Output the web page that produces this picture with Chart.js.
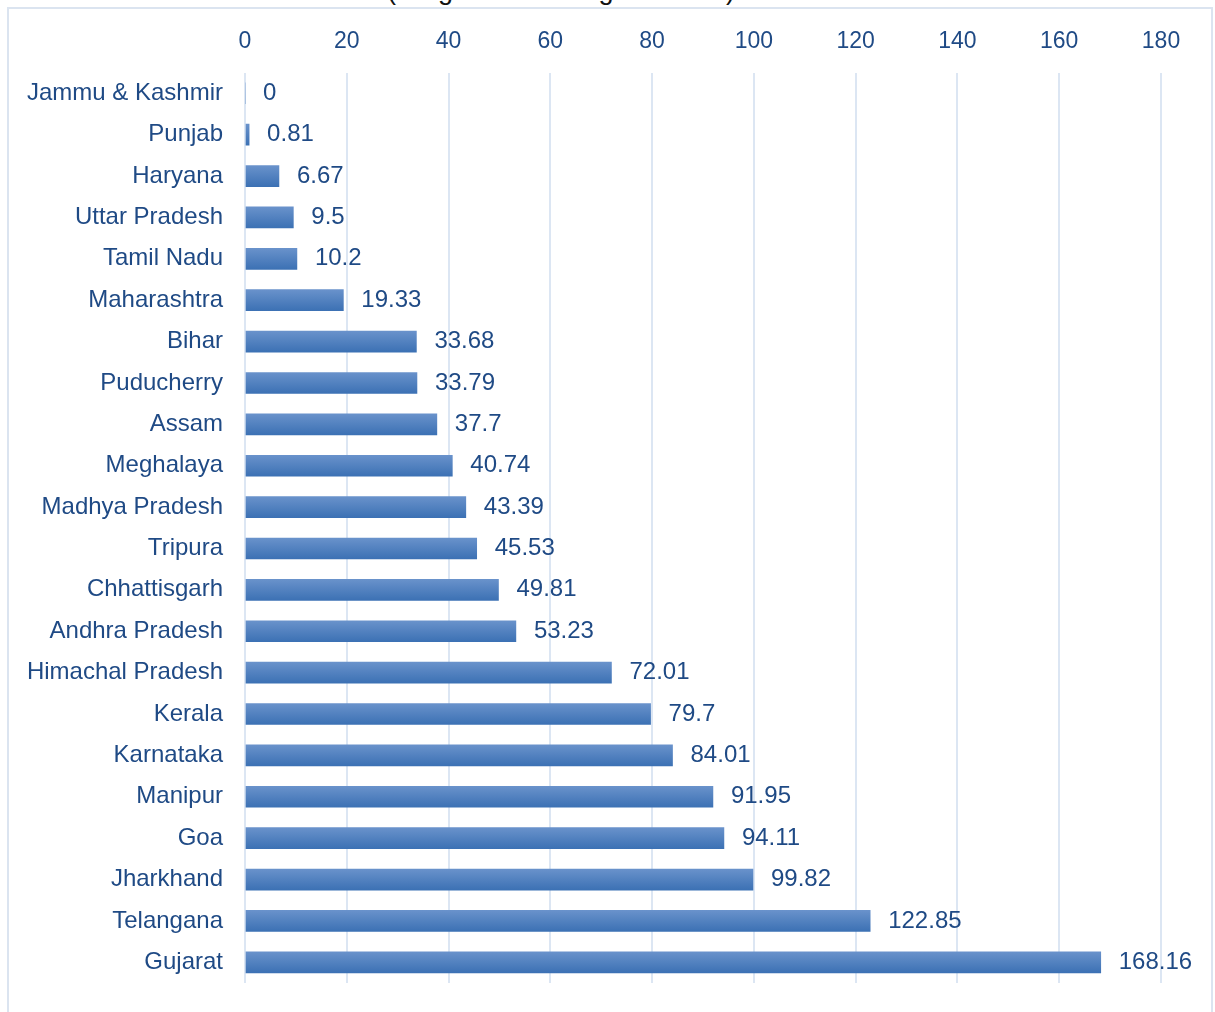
<!DOCTYPE html>
<html>
<head>
<meta charset="utf-8">
<script src="https://cdn.jsdelivr.net/npm/chart.js@4.4.0/dist/chart.umd.min.js"></script>
<style>
  html, body { margin: 0; padding: 0; background: #fff; overflow: hidden; }
  #wrap { position: relative; width: 1215px; height: 1012px; }
  #frame {
    position: absolute; left: 7px; top: 7px; width: 1206px; height: 1030px;
    border: 2px solid #dbe4f0; box-sizing: border-box;
  }
  #title {
    position: absolute; left: 0; width: 1122px; top: -23px; text-align: center;
    font: 27px "Liberation Sans", Arial, sans-serif; line-height: 27px; color: #111;
  }
  canvas { position: absolute; left: 0; top: 0; }
</style>
</head>
<body>
<div id="wrap">
  <div id="frame"></div>
  <div id="title">(Progress w.r.t target as a %)</div>
  <canvas id="chart" width="1215" height="1012"></canvas>
</div>
<script>
const states = [
  "Jammu & Kashmir", "Punjab", "Haryana", "Uttar Pradesh", "Tamil Nadu",
  "Maharashtra", "Bihar", "Puducherry", "Assam", "Meghalaya", "Madhya Pradesh",
  "Tripura", "Chhattisgarh", "Andhra Pradesh", "Himachal Pradesh", "Kerala",
  "Karnataka", "Manipur", "Goa", "Jharkhand", "Telangana", "Gujarat"
];
const progress = [
  0, 0.81, 6.67, 9.5, 10.2, 19.33, 33.68, 33.79, 37.7, 40.74, 43.39,
  45.53, 49.81, 53.23, 72.01, 79.7, 84.01, 91.95, 94.11, 99.82, 122.85, 168.16
];
const xTicks = [0, 20, 40, 60, 80, 100, 120, 140, 160, 180];

const textColor = "#1f4a85";
const gridColor = "#dce6f3";
const barH = 21;

// shade each bar top-to-bottom, then write its value just past the end
const barStyle = {
  id: "barStyle",
  beforeDatasetsDraw(chart) {
    const ctx = chart.ctx;
    chart.getDatasetMeta(0).data.forEach((bar) => {
      const g = ctx.createLinearGradient(0, bar.y - barH / 2, 0, bar.y + barH / 2);
      g.addColorStop(0, "#6992cb");
      g.addColorStop(1, "#3c71b4");
      // options object is shared between bars, so give each its own copy
      bar.options = Object.assign({}, bar.options, { backgroundColor: g });
    });
  },
  afterDatasetsDraw(chart) {
    const ctx = chart.ctx;
    const meta = chart.getDatasetMeta(0);
    ctx.save();
    ctx.font = '24px "Liberation Sans", Arial, sans-serif';
    ctx.fillStyle = textColor;
    ctx.textAlign = "left";
    ctx.textBaseline = "middle";
    meta.data.forEach((bar, i) => {
      ctx.fillText(String(progress[i]), bar.x + 18, bar.y);
    });
    ctx.restore();
  }
};

new Chart(document.getElementById("chart"), {
  type: "bar",
  data: {
    labels: states,
    datasets: [{
      data: progress,
      barThickness: barH,
      borderWidth: 0,
      backgroundColor: "#5080c0"
    }]
  },
  options: {
    indexAxis: "y",
    responsive: false,
    animation: false,
    layout: { padding: { top: 11, right: 54, bottom: 29, left: 0 } },
    plugins: {
      legend: { display: false },
      tooltip: { enabled: false }
    },
    scales: {
      x: {
        position: "top",
        min: 0,
        max: 180,
        afterBuildTicks: (scale) => { scale.ticks = xTicks.map(v => ({ value: v })); },
        ticks: {
          color: textColor,
          padding: 17,
          font: { family: '"Liberation Sans", Arial, sans-serif', size: 23 }
        },
        grid: { color: gridColor, lineWidth: 2, drawTicks: false },
        border: { display: false }
      },
      y: {
        afterFit: (scale) => {
          scale.width = 245;
          scale.paddingTop = 0;
          scale.paddingBottom = 0;
        },
        ticks: {
          color: textColor,
          padding: 22,
          font: { family: '"Liberation Sans", Arial, sans-serif', size: 24 }
        },
        grid: { display: false, drawTicks: false },
        border: { display: false }
      }
    }
  },
  plugins: [barStyle]
});
</script>
</body>
</html>
